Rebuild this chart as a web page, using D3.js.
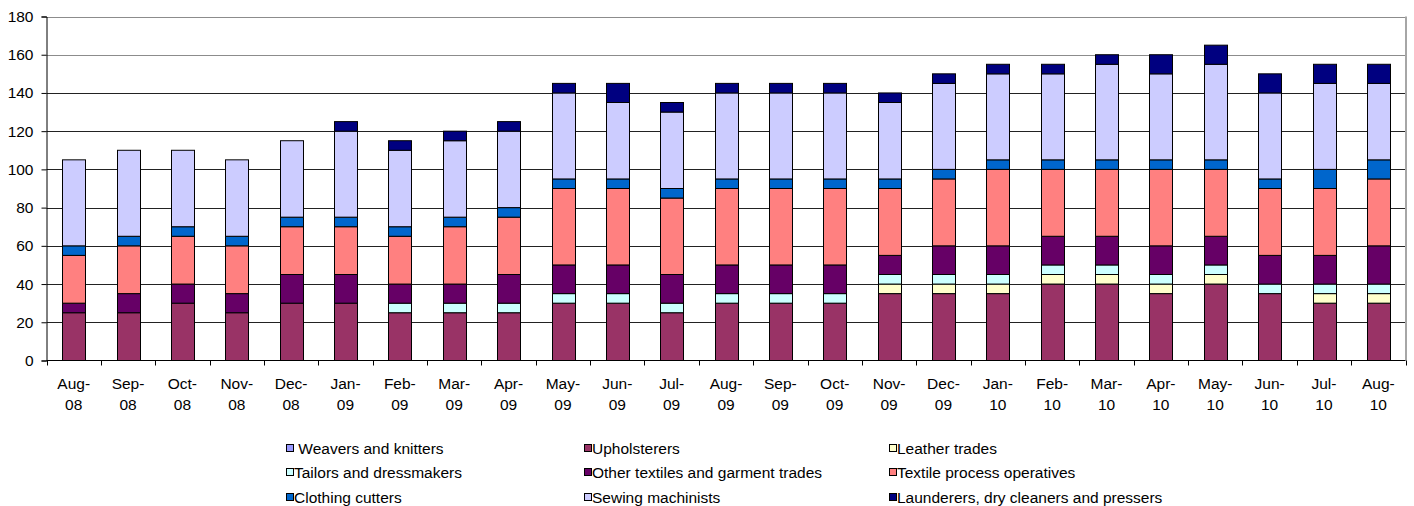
<!DOCTYPE html>
<html>
<head>
<meta charset="utf-8">
<script src="https://cdn.jsdelivr.net/npm/d3@7"></script>
<style>
  html, body { margin: 0; padding: 0; background: #fff; }
  svg { display: block; font-family: "Liberation Sans", Arial, sans-serif; }
  text { white-space: pre; }
</style>
</head>
<body>
<svg id="chart" width="1414" height="506"></svg>
<script>
const months = ["Aug-08","Sep-08","Oct-08","Nov-08","Dec-08","Jan-09","Feb-09","Mar-09","Apr-09","May-09","Jun-09","Jul-09","Aug-09","Sep-09","Oct-09","Nov-09","Dec-09","Jan-10","Feb-10","Mar-10","Apr-10","May-10","Jun-10","Jul-10","Aug-10"];

const seriesNames = [" Weavers and knitters","Upholsterers","Leather trades","Tailors and dressmakers","Other textiles and garment trades","Textile process operatives","Clothing cutters","Sewing machinists","Launderers, dry cleaners and pressers"];
const seriesColors = ["#9999FF","#993366","#FFFFCC","#CCFFFF","#660066","#FF8080","#0066CC","#CCCCFF","#000080"];

const weavers      = [0,0,0,0,0,0,0,0,0,0,0,0,0,0,0,0,0,0,0,0,0,0,0,0,0];
const upholsterers = [25,25,30,25,30,30,25,25,25,30,30,25,30,30,30,35,35,35,40,40,35,40,35,30,30];
const leather      = [0,0,0,0,0,0,0,0,0,0,0,0,0,0,0,5,5,5,5,5,5,5,0,5,5];
const tailors      = [0,0,0,0,0,0,5,5,5,5,5,5,5,5,5,5,5,5,5,5,5,5,5,5,5];
const otherTextile = [5,10,10,10,15,15,10,10,15,15,15,15,15,15,15,10,15,15,15,15,15,15,15,15,20];
const textileProc  = [25,25,25,25,25,25,25,30,30,40,40,40,40,40,40,35,35,40,35,35,40,35,35,35,35];
const cutters      = [5,5,5,5,5,5,5,5,5,5,5,5,5,5,5,5,5,5,5,5,5,5,5,10,10];
const sewing       = [45,45,40,40,40,45,40,40,40,45,40,40,45,45,45,40,45,45,45,50,45,50,45,45,40];
const launderers   = [0,0,0,0,0,5,5,5,5,5,10,5,5,5,5,5,5,5,5,5,10,10,10,10,10];

const yTicks = [0,20,40,60,80,100,120,140,160,180];

const seriesValues = [weavers, upholsterers, leather, tailors, otherTextile, textileProc, cutters, sewing, launderers];

const rows = months.map((m, i) => {
  const r = { month: m };
  seriesNames.forEach((s, k) => r[s] = seriesValues[k][i]);
  return r;
});

const FS = 15.5;
const svg = d3.select("#chart");
const pLeft = 46.5, pRight = 1405.5, pTop = 16.5, pBottom = 360.5;

const x = d3.scaleBand().domain(months).range([pLeft, pRight]).padding(0);
const y = d3.scaleLinear().domain([0, 180]).range([pBottom, pTop]);

// gridlines
svg.append("g").selectAll("line").data(yTicks.filter(t => t > 0)).join("line")
  .attr("x1", pLeft).attr("x2", pRight)
  .attr("y1", d => Math.round(y(d)) + 0.5).attr("y2", d => Math.round(y(d)) + 0.5)
  .attr("stroke", d => d >= 160 ? "#8c8c8c" : "#222").attr("stroke-width", 1);

// plot border right
svg.append("line").attr("x1", pRight + 0.5).attr("x2", pRight + 0.5).attr("y1", pTop).attr("y2", pBottom)
  .attr("stroke", "#a6a6a6").attr("stroke-width", 2);

const stack = d3.stack().keys(seriesNames);
const stacked = stack(rows);
const barW = x.bandwidth() * 0.42;

svg.append("g").selectAll("g").data(stacked).join("g")
  .attr("fill", (d, i) => seriesColors[i])
  .selectAll("rect").data(d => d.filter(p => p[1] - p[0] > 0)).join("rect")
  .attr("x", d => Math.round(x(d.data.month) + x.bandwidth() / 2 - barW / 2) + 0.5)
  .attr("width", Math.round(barW))
  .attr("y", d => y(d[1]))
  .attr("height", d => y(d[0]) - y(d[1]))
  .attr("stroke", "#000").attr("stroke-width", 1);

// y axis
const yAxis = d3.axisLeft(y).tickValues(yTicks).tickSize(5).tickPadding(8);
const gy = svg.append("g").attr("transform", `translate(${pLeft},0)`).call(yAxis);
gy.select(".domain").attr("stroke", "#000");
gy.selectAll(".tick line").attr("stroke", "#000");
gy.selectAll(".tick text").attr("font-size", FS).attr("fill", "#000")
  .attr("font-family", "Liberation Sans, Arial, sans-serif");

// x axis
const gx = svg.append("g").attr("transform", `translate(0,${pBottom})`);
gx.append("line").attr("x1", pLeft).attr("x2", pRight).attr("stroke", "#000");
const bounds = months.map(m => x(m)).concat([pRight]);
gx.selectAll("line.tk").data(bounds).join("line").attr("class", "tk")
  .attr("x1", d => Math.round(d) + 0.5).attr("x2", d => Math.round(d) + 0.5)
  .attr("y1", 0).attr("y2", 5).attr("stroke", "#000");
const lbl = gx.selectAll("text").data(months).join("text")
  .attr("text-anchor", "middle").attr("font-size", FS).attr("fill", "#000")
  .attr("x", d => x(d) + x.bandwidth() / 2);
lbl.append("tspan").attr("x", d => x(d) + x.bandwidth() / 2).attr("y", 28).text(d => d.split("-")[0] + "-");
lbl.append("tspan").attr("x", d => x(d) + x.bandwidth() / 2).attr("y", 49).text(d => d.split("-")[1]);

// legend
const colX = [286, 584, 889];
const rowY = [448, 472, 497];
const lg = svg.append("g").selectAll("g").data(seriesNames).join("g")
  .attr("transform", (d, i) => `translate(${colX[i % 3]},${rowY[Math.floor(i / 3)]})`);
lg.append("rect").attr("x", 0.5).attr("y", -3.5).attr("width", 7).attr("height", 7)
  .attr("fill", (d, i) => seriesColors[i]).attr("stroke", "#000").attr("stroke-width", 1);
lg.append("text").attr("x", 8).attr("y", 5.5).attr("font-size", FS).attr("fill", "#000").text(d => d);
</script>
</body>
</html>
